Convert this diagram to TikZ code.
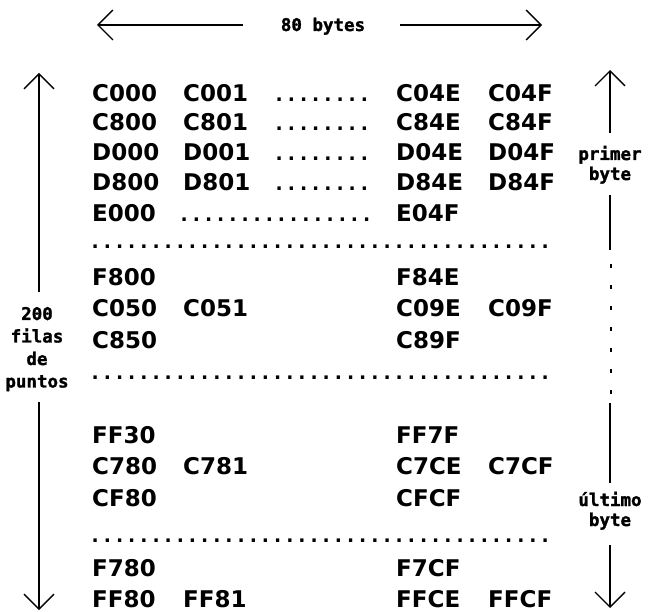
\documentclass[tikz,border=0pt]{standalone}
\usepackage{fontspec}
\usetikzlibrary{arrows.meta}
\newfontfamily\hexfont{DejaVu Sans}
\newfontfamily\labfont{DejaVu Sans Mono}
\newfontfamily\labheavy{DejaVu Sans Mono Bold}[FakeBold=1.6]
\begin{document}
\begin{tikzpicture}[x=1pt,y=-1pt,
  hex/.style={font=\hexfont\bfseries\fontsize{23}{23}\selectfont, anchor=base west, inner sep=0pt},
  dotrow/.style={font=\labfont\bfseries\fontsize{20.2}{20}\selectfont, anchor=base west, inner sep=0pt},
  lab/.style={font=\labheavy\fontsize{17.5}{17.5}\selectfont, anchor=base, inner sep=0pt},
  dim/.style={line width=1.4pt, -{Straight Barb[length=15pt,width=30pt]}},
  seg/.style={line width=1.4pt}]
\useasboundingbox (0,0) rectangle (651,612);
% top dimension
\node[lab] (w) at (323,31) {80 bytes};
\coordinate (tl0) at (243,25); \coordinate (tl1) at (97,25);
\coordinate (tr0) at (400,25); \coordinate (tr1) at (542,25);
\draw[dim] (tl0) -- (tl1);
\draw[dim] (tr0) -- (tr1);
% left dimension
\node[lab] (l1) at (37,320) {200};
\node[lab] (l2) at (37,342.5) {filas};
\node[lab] (l3) at (37,365) {de};
\node[lab] (l4) at (37,387.5) {puntos};
\coordinate (la0) at (39,292); \coordinate (la1) at (39,73);
\coordinate (lb0) at (39,402); \coordinate (lb1) at (39,610);
\draw[dim] (la0) -- (la1);
\draw[dim] (lb0) -- (lb1);
% right dimension
\node[lab] (r1) at (610,160) {primer};
\node[lab] (r2) at (610,180) {byte};
\node[lab] (r3) at (610,506) {último};
\node[lab] (r4) at (610,526) {byte};
\coordinate (ra0) at (610,133); \coordinate (ra1) at (610,70);
\coordinate (rb0) at (610,195); \coordinate (rb1) at (610,250);
\coordinate (rc0) at (610,403); \coordinate (rc1) at (610,483);
\coordinate (rd0) at (610,545); \coordinate (rd1) at (610,608);
\draw[dim] (ra0) -- (ra1);
\draw[seg] (rb0) -- (rb1);
\draw[seg] (rc0) -- (rc1);
\draw[dim] (rd0) -- (rd1);
\foreach \k in {0,...,6} {
  \coordinate (dt\k) at (611,266+21*\k);
  \fill (dt\k) ++(-1,-2) rectangle ++(2.4,4);
}
% rows
\node[hex] (a1) at (92,101.4) {C000};
\node[hex] (a2) at (183,101.4) {C001};
\node[dotrow] (a3) at (273,101.4) {........};
\node[hex] (a4) at (396,101.4) {C04E};
\node[hex] (a5) at (488,101.4) {C04F};

\node[hex] (b1) at (92,130.4) {C800};
\node[hex] (b2) at (183,130.4) {C801};
\node[dotrow] (b3) at (273,130.4) {........};
\node[hex] (b4) at (396,130.4) {C84E};
\node[hex] (b5) at (488,130.4) {C84F};

\node[hex] (c1) at (92,160.4) {D000};
\node[hex] (c2) at (183,160.4) {D001};
\node[dotrow] (c3) at (273,160.4) {........};
\node[hex] (c4) at (396,160.4) {D04E};
\node[hex] (c5) at (488,160.4) {D04F};

\node[hex] (d1) at (92,190.4) {D800};
\node[hex] (d2) at (183,190.4) {D801};
\node[dotrow] (d3) at (273,190.4) {........};
\node[hex] (d4) at (396,190.4) {D84E};
\node[hex] (d5) at (488,190.4) {D84F};

\node[hex] (e1) at (92,221.4) {E000};
\node[dotrow] (e3) at (178,221.4) {................};
\node[hex] (e4) at (396,221.4) {E04F};

\node[dotrow] (s1) at (89,249) {......................................};

\node[hex] (f1) at (92,285.4) {F800};
\node[hex] (f4) at (396,285.4) {F84E};

\node[hex] (g1) at (92,316.4) {C050};
\node[hex] (g2) at (183,316.4) {C051};
\node[hex] (g4) at (396,316.4) {C09E};
\node[hex] (g5) at (488,316.4) {C09F};

\node[hex] (h1) at (92,348.4) {C850};
\node[hex] (h4) at (396,348.4) {C89F};

\node[dotrow] (s2) at (89,380) {......................................};

\node[hex] (i1) at (92,443.4) {FF30};
\node[hex] (i4) at (396,443.4) {FF7F};

\node[hex] (j1) at (92,474.4) {C780};
\node[hex] (j2) at (183,474.4) {C781};
\node[hex] (j4) at (396,474.4) {C7CE};
\node[hex] (j5) at (488,474.4) {C7CF};

\node[hex] (k1) at (92,506.4) {CF80};
\node[hex] (k4) at (396,506.4) {CFCF};

\node[dotrow] (s3) at (89,542) {......................................};

\node[hex] (m1) at (92,576.4) {F780};
\node[hex] (m4) at (396,576.4) {F7CF};

\node[hex] (n1) at (92,607.4) {FF80};
\node[hex] (n2) at (183,607.4) {FF81};
\node[hex] (n4) at (396,607.4) {FFCE};
\node[hex] (n5) at (488,607.4) {FFCF};
\end{tikzpicture}
\end{document}
